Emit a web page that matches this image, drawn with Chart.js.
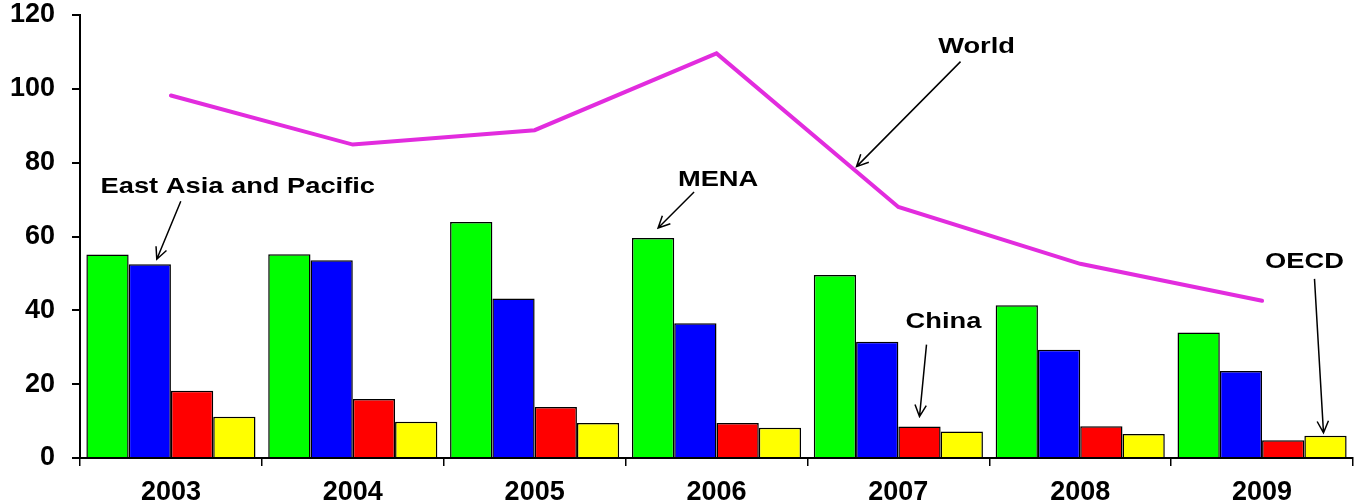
<!DOCTYPE html>
<html>
<head>
<meta charset="utf-8">
<style>
  html, body { margin: 0; padding: 0; background: #fff; }
  canvas { display: block; }
</style>
<script src="https://cdn.jsdelivr.net/npm/chart.js@4/dist/chart.umd.min.js"></script>
</head>
<body>
<canvas id="myChart" width="1359" height="504"></canvas>
<script>
let years = ["2003", "2004", "2005", "2006", "2007", "2008", "2009"];
let mena = [55.1, 55.2, 63.9, 59.6, 49.6, 41.4, 34.0];
let eastAsia = [52.5, 53.6, 43.2, 36.5, 31.5, 29.3, 23.6];
let china = [18.2, 16.0, 13.8, 9.5, 8.5, 8.6, 4.8];
let oecd = [11.2, 9.8, 9.5, 8.2, 7.2, 6.5, 6.0];
let world = [98.2, 84.9, 88.8, 109.6, 68.0, 52.6, 42.6];
let yTicks = [0, 20, 40, 60, 80, 100, 120];

// labels with arrows: ds = dataset index, i = point, t = position along line segment
let notes = [
  { text: "East Asia and Pacific", ds: 1, i: 0, tip: [7, -5], tail: [31, -63], label: [88, -79] },
  { text: "MENA", ds: 0, i: 3, tip: [5, -10], tail: [41, -46], label: [65, -60] },
  { text: "World", ds: 4, i: 3, t: 0.77, tip: [0, -5], tail: [104, -110], label: [120, -127] },
  { text: "China", ds: 2, i: 4, tip: [0, -10], tail: [7, -82], label: [24, -107] },
  { text: "OECD", ds: 3, i: 6, tip: [-2, -3], tail: [-11, -157], label: [-21, -176] }
];

const notesPlugin = {
  id: "notes",
  afterDatasetsDraw(chart) {
    const ctx = chart.ctx;
    ctx.save();
    ctx.strokeStyle = "#000";
    ctx.fillStyle = "#000";
    ctx.lineWidth = 1.5;
    ctx.font = "bold 22px 'Liberation Sans', Arial, sans-serif";
    ctx.textAlign = "center";
    ctx.textBaseline = "alphabetic";
    notes.forEach(n => {
      const pts = chart.getDatasetMeta(n.ds).data;
      let ax = pts[n.i].x, ay = pts[n.i].y;
      if (n.t !== undefined) {
        ax = ax + (pts[n.i + 1].x - ax) * n.t;
        ay = ay + (pts[n.i + 1].y - ay) * n.t;
      }
      const tx = ax + n.tip[0], ty = ay + n.tip[1];
      const sx = ax + n.tail[0], sy = ay + n.tail[1];
      ctx.beginPath();
      ctx.moveTo(sx, sy);
      ctx.lineTo(tx, ty);
      const ang = Math.atan2(ty - sy, tx - sx);
      const len = 13, spread = 0.45;
      ctx.moveTo(tx - len * Math.cos(ang - spread), ty - len * Math.sin(ang - spread));
      ctx.lineTo(tx, ty);
      ctx.lineTo(tx - len * Math.cos(ang + spread), ty - len * Math.sin(ang + spread));
      ctx.stroke();

      const lx = ax + n.label[0], ly = ay + n.label[1];
      ctx.save();
      ctx.translate(lx, ly + 8);
      ctx.scale(1.24, 1);
      ctx.fillText(n.text, 0, 0);
      ctx.restore();
    });
    ctx.restore();
  }
};

const tickFont = { family: "'Liberation Sans', Arial, sans-serif", size: 27, weight: "bold" };

const ctx = document.getElementById("myChart").getContext("2d");
new Chart(ctx, {
  type: "bar",
  data: {
    labels: years,
    datasets: [
      { label: "MENA", data: mena, backgroundColor: "#00FF00", borderColor: "#000", borderWidth: 1.5, order: 1 },
      { label: "East Asia and Pacific", data: eastAsia, backgroundColor: "#0000FF", borderColor: "#000", borderWidth: 1.5, order: 1 },
      { label: "China", data: china, backgroundColor: "#FF0000", borderColor: "#000", borderWidth: 1.5, order: 1 },
      { label: "OECD", data: oecd, backgroundColor: "#FFFF00", borderColor: "#000", borderWidth: 1.5, order: 1 },
      { label: "World", type: "line", data: world, borderColor: "#E22CDE", borderWidth: 4,
        pointRadius: 0, fill: false, tension: 0, borderCapStyle: "round", order: 0 }
    ]
  },
  options: {
    responsive: false,
    animation: false,
    devicePixelRatio: 1,
    layout: { padding: { top: 15, right: 6, left: 0, bottom: 0 } },
    datasets: { bar: { categoryPercentage: 0.93, barPercentage: 1.0 } },
    plugins: { legend: { display: false }, tooltip: { enabled: false } },
    scales: {
      x: {
        offset: true,
        grid: { offset: true, drawOnChartArea: false, drawTicks: true, tickLength: 8, color: "#000", lineWidth: 1.5 },
        border: { color: "#000", width: 2 },
        ticks: { color: "#000", font: tickFont, padding: 10, maxRotation: 0 },
        afterFit(s) { s.height = 46; s.paddingLeft = 0; s.paddingRight = 0; }
      },
      y: {
        min: 0,
        max: 120,
        afterBuildTicks(s) { s.ticks = yTicks.map(v => ({ value: v })); },
        grid: { drawOnChartArea: false, drawTicks: true, tickLength: 8, color: "#000", lineWidth: 2 },
        border: { color: "#000", width: 2 },
        ticks: { color: "#000", font: tickFont, padding: 17 },
        afterFit(s) { s.width = 80; s.paddingTop = 0; s.paddingBottom = 0; }
      }
    }
  },
  plugins: [notesPlugin]
});
</script>
</body>
</html>
